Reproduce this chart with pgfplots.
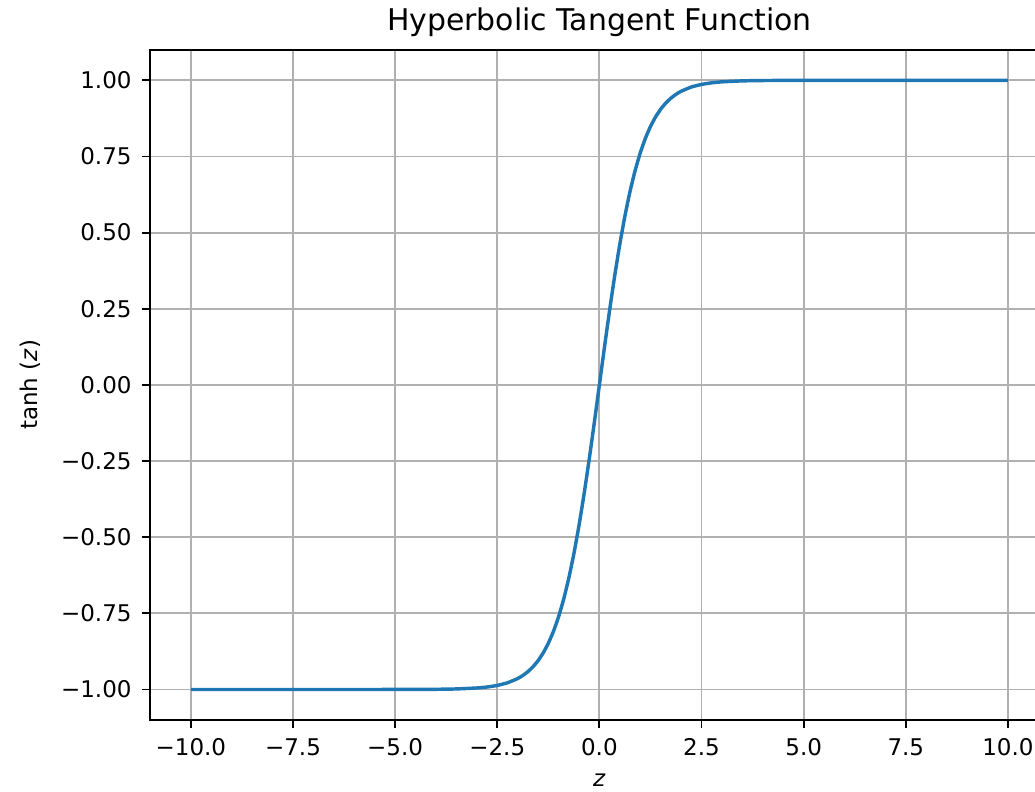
\documentclass[border=0pt]{standalone}
\usepackage{pgfplots}
\pgfplotsset{compat=1.18}
\usepackage{fontspec}
\setmainfont{DejaVu Sans}
\usetikzlibrary{calc}
\definecolor{mplblue}{HTML}{1F77B4}
\definecolor{mplgrid}{HTML}{B0B0B0}

\begin{document}
\begin{tikzpicture}
\begin{axis}[
name=ax,
scale only axis,
width=391pt, height=291.5pt,
xmin=-11, xmax=11,
ymin=-1.1, ymax=1.1,
xtick={-10,-7.5,-5,-2.5,0,2.5,5,7.5,10},
xticklabels={−10.0,−7.5,−5.0,−2.5,0.0,2.5,5.0,7.5,10.0},
ytick={-1,-0.75,-0.5,-0.25,0,0.25,0.5,0.75,1},
yticklabels={−1.00,−0.75,−0.50,−0.25,0.00,0.25,0.50,0.75,1.00},
tick align=outside,
major tick length=3.5pt,
tick style={black, line width=0.8pt},
xtick pos=bottom, ytick pos=left,
axis line style={line width=0.8pt},
grid=major,
major grid style={mplgrid, line width=0.8pt},
tick label style={font=\fontsize{10}{12}\selectfont},
xticklabel style={yshift=-1pt},
yticklabel style={xshift=-1pt},
title={Hyperbolic Tangent Function},
title style={font=\fontsize{13}{15}\selectfont, yshift=-4pt},
xlabel={\textit{z}},
ylabel={tanh (\textit{z})},
label style={font=\fontsize{10}{12}\selectfont},
xlabel style={yshift=-1pt},
ylabel style={yshift=2pt},
]
\addplot[mplblue, line width=1.5pt, smooth, tension=0.3] coordinates {
(-10,-1.00000) (-7,-0.99999) (-5,-0.99991) (-4,-0.99933) (-3.5,-0.99818)
(-3,-0.99505) (-2.75,-0.99186) (-2.5,-0.98661) (-2.25,-0.97803)
(-2,-0.96403) (-1.875,-0.95405) (-1.75,-0.94138) (-1.625,-0.92535)
(-1.5,-0.90515) (-1.375,-0.87983) (-1.25,-0.84828) (-1.125,-0.80930)
(-1,-0.76159) (-0.875,-0.70391) (-0.75,-0.63515) (-0.625,-0.55460)
(-0.5,-0.46212) (-0.375,-0.35835) (-0.25,-0.24492) (-0.125,-0.12435)
(0,0)
(0.125,0.12435) (0.25,0.24492) (0.375,0.35835) (0.5,0.46212)
(0.625,0.55460) (0.75,0.63515) (0.875,0.70391) (1,0.76159)
(1.125,0.80930) (1.25,0.84828) (1.375,0.87983) (1.5,0.90515)
(1.625,0.92535) (1.75,0.94138) (1.875,0.95405) (2,0.96403)
(2.25,0.97803) (2.5,0.98661) (2.75,0.99186) (3,0.99505)
(3.5,0.99818) (4,0.99933) (5,0.99991) (7,0.99999) (10,1.00000)
};
\end{axis}
\pgfresetboundingbox
\path ($(ax.south west)+(-65.25pt,-31.3pt)$) rectangle ($(ax.south west)+(385pt,313.2pt)$);
\end{tikzpicture}
\end{document}
